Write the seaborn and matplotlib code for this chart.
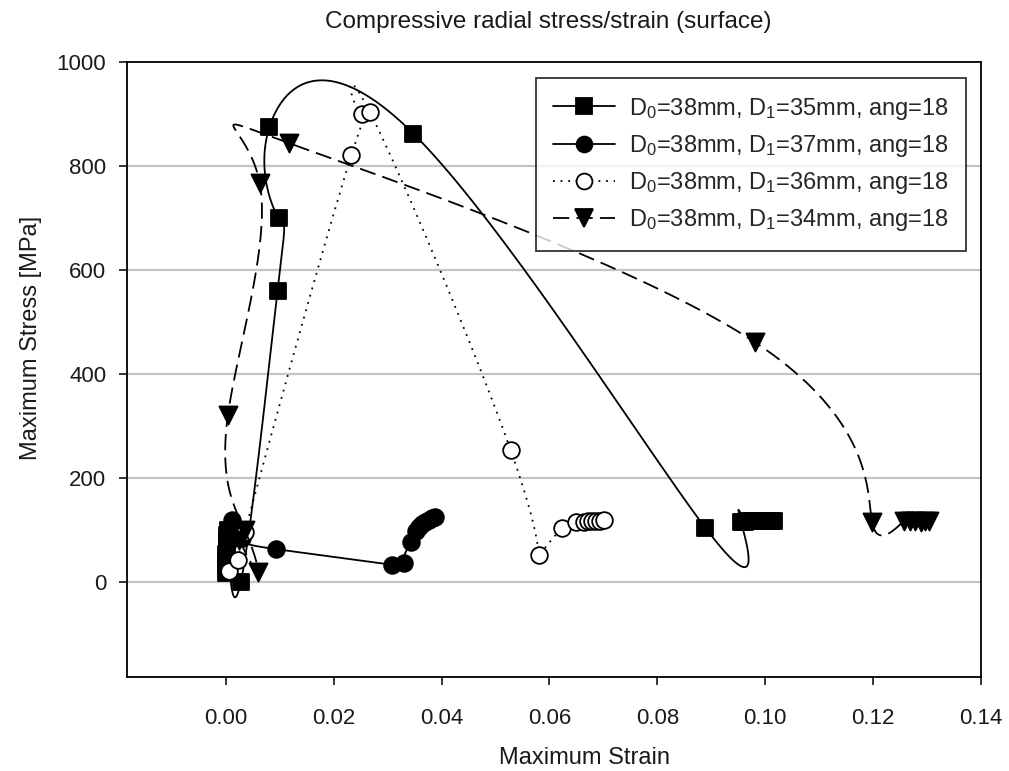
import numpy as np
import pandas as pd
import matplotlib
matplotlib.use("Agg")
import matplotlib.pyplot as plt
from matplotlib.lines import Line2D
import seaborn as sns

sns.set_theme(style="white")
plt.rcParams["font.family"] = ["Liberation Sans", "DejaVu Sans"]
plt.rcParams["mathtext.fontset"] = "custom"
plt.rcParams["mathtext.rm"] = "Liberation Sans"
plt.rcParams["mathtext.it"] = "Liberation Sans:italic"

# D0=38mm, D1=35mm
strain_d35 = [0.0000, 0.0000, 0.0001, 0.0001, 0.0002, 0.0002, 0.0003, 0.0004,
              0.0028, 0.0096, 0.0098, 0.0081, 0.0348, 0.0889,
              0.0955, 0.0962, 0.0969, 0.0976, 0.0983, 0.0990, 0.0997, 0.1004, 0.1011, 0.1016]
stress_d35 = [18, 30, 42, 54, 66, 78, 90, 100,
              0, 560, 700, 875, 862, 104,
              116, 116, 117, 117, 117, 117, 117, 117, 117, 118]

# D0=38mm, D1=37mm
strain_d37 = [0.0003, 0.0005, 0.0008, 0.0012, 0.0030, 0.0093,
              0.0309, 0.0330, 0.0344, 0.0352, 0.0358, 0.0364, 0.0370, 0.0376, 0.0382, 0.0387]
stress_d37 = [25, 50, 80, 119, 85, 63,
              33, 37, 77, 98, 106, 111, 115, 119, 122, 125]

# D0=38mm, D1=36mm
strain_d36 = [0.0006, 0.0022, 0.0035, 0.0233, 0.0252, 0.0267, 0.0528, 0.0581,
              0.0624, 0.0650, 0.0665, 0.0672, 0.0679, 0.0686, 0.0693, 0.0702]
stress_d36 = [20, 42, 95, 821, 900, 904, 254, 52,
              104, 115, 116, 117, 117, 117, 118, 119]

# D0=38mm, D1=34mm
strain_d34 = [0.0025, 0.0059, 0.0035, 0.0004, 0.0063, 0.0117, 0.0981, 0.1198,
              0.1257, 0.1268, 0.1278, 0.1288, 0.1296, 0.1304]
stress_d34 = [80, 19, 100, 321, 767, 844, 461, 115,
              117, 117, 117, 116, 117, 117]

labels = [
    r"D$_0$=38mm, D$_1$=35mm, ang=18",
    r"D$_0$=38mm, D$_1$=37mm, ang=18",
    r"D$_0$=38mm, D$_1$=36mm, ang=18",
    r"D$_0$=38mm, D$_1$=34mm, ang=18",
]

x_ticks = [0.00, 0.02, 0.04, 0.06, 0.08, 0.10, 0.12, 0.14]
y_ticks = [0, 200, 400, 600, 800, 1000]


def natural_spline(v, n=40):
    """Natural cubic spline through the values, parameterised by point index."""
    v = np.asarray(v, float)
    N = len(v)
    A = np.zeros((N, N))
    b = np.zeros(N)
    A[0, 0] = 1.0
    A[-1, -1] = 1.0
    for i in range(1, N - 1):
        A[i, i - 1] = 1.0
        A[i, i] = 4.0
        A[i, i + 1] = 1.0
        b[i] = 6.0 * (v[i + 1] - 2.0 * v[i] + v[i - 1])
    M = np.linalg.solve(A, b)
    t = np.linspace(0.0, 1.0, n, endpoint=False)
    parts = []
    for i in range(N - 1):
        seg = ((1 - t) * v[i] + t * v[i + 1]
               + ((1 - t) ** 3 - (1 - t)) * M[i] / 6.0
               + (t ** 3 - t) * M[i + 1] / 6.0)
        parts.append(seg)
    parts.append([v[-1]])
    return np.concatenate(parts)


series = [
    dict(x=strain_d35, y=stress_d35, marker="s", ms=11.5, face="black",
         ls="-", label=labels[0]),
    dict(x=strain_d37, y=stress_d37, marker="o", ms=12, face="black",
         ls="-", label=labels[1]),
    dict(x=strain_d36, y=stress_d36, marker="o", ms=12, face="white",
         ls=(0, (1, 3.2)), label=labels[2]),
    dict(x=strain_d34, y=stress_d34, marker="v", ms=13, face="black",
         ls=(0, (9, 4)), label=labels[3]),
]

fig = plt.figure(figsize=(10.09, 7.71), dpi=100)
ax = fig.add_axes([0.1259, 0.1219, 0.8463, 0.7977])

for k, s in enumerate(series):
    cx = natural_spline(s["x"])
    cy = natural_spline(s["y"])
    curve = pd.DataFrame({"strain": cx, "stress": cy})
    sns.lineplot(data=curve, x="strain", y="stress", sort=False, estimator=None,
                 color="black", linewidth=1.3, linestyle=s["ls"], ax=ax,
                 zorder=3 + 2 * k)

for k, s in enumerate(series):
    pts = pd.DataFrame({"strain": s["x"], "stress": s["y"]})
    sns.scatterplot(data=pts, x="strain", y="stress", marker=s["marker"],
                    s=s["ms"] ** 2, color=s["face"], edgecolor="black",
                    linewidth=1.3, ax=ax, zorder=4 + 2 * k, legend=False)

ax.set_xlim(-0.0183, 0.14)
ax.set_ylim(-183, 1000)
ax.set_xticks(x_ticks)
ax.set_xticklabels([f"{v:.2f}" for v in x_ticks])
ax.set_yticks(y_ticks)
ax.set_yticklabels([str(v) for v in y_ticks])

for gy in y_ticks[:-1]:
    ax.axhline(gy, color="#c4c4c4", linewidth=1.6, zorder=1)

for sp in ax.spines.values():
    sp.set_color("black")
    sp.set_linewidth(1.3)

ax.tick_params(axis="both", which="major", direction="out", length=6, width=1.1,
               color="black", labelsize=16, labelcolor="#1a1a1a",
               bottom=True, left=True)
ax.tick_params(axis="x", pad=16)
ax.tick_params(axis="y", pad=9)

ax.set_xlabel("Maximum Strain", fontsize=17, color="#1a1a1a")
ax.set_ylabel("Maximum Stress [MPa]", fontsize=17, color="#1a1a1a")
ax.xaxis.set_label_coords(0.536, -0.113)
ax.yaxis.set_label_coords(-0.099, 0.551)
fig.text(0.543, 0.9715, "Compressive radial stress/strain (surface)",
         ha="center", va="center", fontsize=17.5, color="#1a1a1a")

handles = [
    Line2D([], [], color="black", linewidth=1.3, linestyle=s["ls"], marker=s["marker"],
           markersize=s["ms"] * 0.95, markerfacecolor=s["face"],
           markeredgecolor="black", markeredgewidth=1.3)
    for s in series
]
leg = ax.legend(handles, [s["label"] for s in series], loc="upper right",
                bbox_to_anchor=(0.983, 0.974), fontsize=17, frameon=True,
                fancybox=False, edgecolor="black", handlelength=2.6,
                handletextpad=0.6, labelspacing=0.47, borderpad=0.75,
                borderaxespad=0.0)
leg.get_frame().set_linewidth(1.3)
leg.set_zorder(20)

fig.savefig("out.png", dpi=100, facecolor="white")
